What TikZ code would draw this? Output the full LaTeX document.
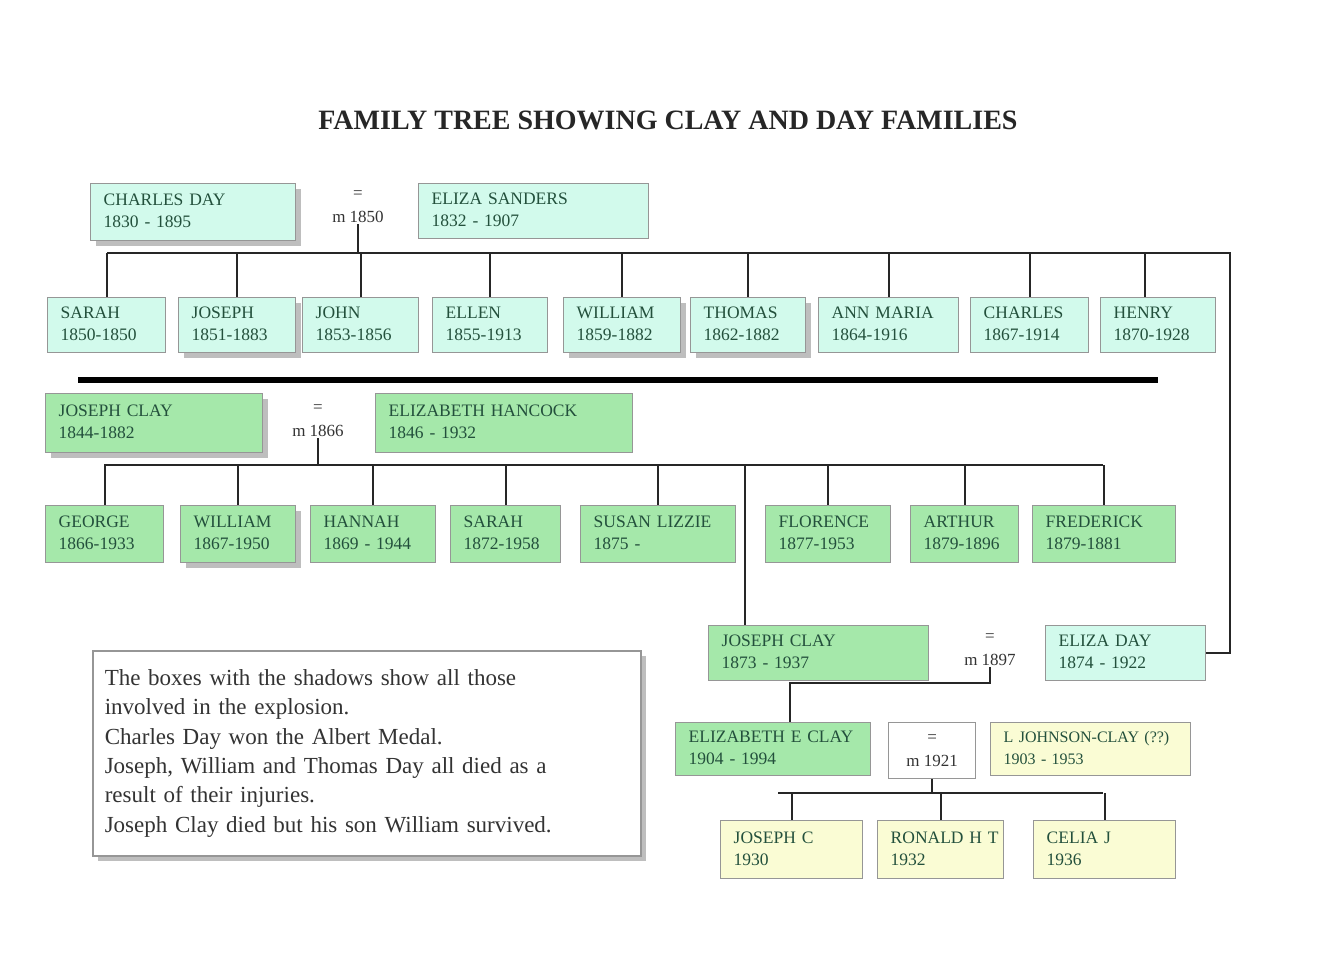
\documentclass[tikz,border=0pt]{standalone}
\usepackage{fontspec}
\setmainfont{Liberation Serif}
\usetikzlibrary{shadows}
\definecolor{daycyan}{RGB}{210,250,236}
\definecolor{claygreen}{RGB}{165,232,170}
\definecolor{paleyellow}{RGB}{250,252,212}
\definecolor{boxline}{RGB}{150,150,150}
\definecolor{txtgreen}{RGB}{35,80,60}
\definecolor{shadowgrey}{RGB}{190,190,190}
\newcommand\pbox[7]{%
  \pgfmathsetmacro\bw{#4-#2}%
  \pgfmathsetmacro\bh{#5-#3}%
  \pgfmathsetmacro\tw{#4-#2-26}%
  \node[person,#6,minimum width=\bw pt,minimum height=\bh pt,text width=\tw pt] (#1) at (#2,#3)
    {\begin{tabular}{@{}l@{}}#7\end{tabular}};%
}
\begin{document}
\begin{tikzpicture}[x=1pt,y=-1pt,
  person/.style={draw=boxline,line width=1.4pt,anchor=north west,align=left,inner sep=0pt,
    font=\fontsize{17.5}{22}\selectfont,text=txtgreen},
  day/.style={fill=daycyan},
  clay/.style={fill=claygreen},
  kid/.style={fill=paleyellow},
  shadowed/.style={general shadow={fill=shadowgrey,shadow xshift=5pt,shadow yshift=-5pt}},
  marr/.style={align=center,inner sep=1pt,font=\fontsize{17}{24}\selectfont,text=black!80},
  link/.style={draw=black!85,line width=1.8pt},
  titlefont/.style={font=\fontsize{28}{32}\selectfont\bfseries}
]
\useasboundingbox (0,0) rectangle (1330,965);
\fill[white] (0,0) rectangle (1330,965);

\node[titlefont,text=black!85] (title) at (668,120) {FAMILY TREE SHOWING CLAY AND DAY FAMILIES};

% generation 1
\pbox{cday}{90}{183}{295}{240}{day,shadowed}{CHARLES DAY\\1830 - 1895}
\pbox{esand}{418}{183}{648}{238}{day}{ELIZA SANDERS\\1832 - 1907}
\node[marr] (m1) at (358,207) {=\\m 1850};
\coordinate (t1L) at (107,253);
\coordinate (t1R) at (1230,253);

% Day children
\pbox{sarah1}{47}{297}{165}{352}{day}{SARAH\\1850-1850}
\pbox{joseph1}{178}{297}{295}{352}{day,shadowed}{JOSEPH\\1851-1883}
\pbox{john1}{302}{297}{418}{352}{day}{JOHN\\1853-1856}
\pbox{ellen1}{432}{297}{547}{352}{day}{ELLEN\\1855-1913}
\pbox{william1}{563}{297}{680}{352}{day,shadowed}{WILLIAM\\1859-1882}
\pbox{thomas1}{690}{297}{805}{352}{day,shadowed}{THOMAS\\1862-1882}
\pbox{ann1}{818}{297}{958}{352}{day}{ANN MARIA\\1864-1916}
\pbox{charles1}{970}{297}{1088}{352}{day}{CHARLES\\1867-1914}
\pbox{henry1}{1100}{297}{1215}{352}{day}{HENRY\\1870-1928}
\coordinate (hdrop) at (1145,297);

\draw[line width=6pt] (78,380) coordinate (barL) -- (1158,380) coordinate (barR);

% generation 2 (Clay)
\pbox{jclay2}{45}{393}{262}{452}{clay,shadowed}{JOSEPH CLAY\\1844-1882}
\pbox{ehan}{375}{393}{632}{452}{clay}{ELIZABETH HANCOCK\\1846 - 1932}
\node[marr] (m2) at (318,421) {=\\m 1866};
\coordinate (t2L) at (104,465);
\coordinate (t2R) at (1103,465);
\coordinate (t2J) at (745,465);

\pbox{george2}{45}{505}{163}{562}{clay}{GEORGE\\1866-1933}
\pbox{william2}{180}{505}{295}{562}{clay,shadowed}{WILLIAM\\1867-1950}
\pbox{hannah2}{310}{505}{435}{562}{clay}{HANNAH\\1869 - 1944}
\pbox{sarah2}{450}{505}{560}{562}{clay}{SARAH\\1872-1958}
\pbox{susan2}{580}{505}{735}{562}{clay}{SUSAN LIZZIE\\1875 -}
\pbox{florence2}{765}{505}{890}{562}{clay}{FLORENCE\\1877-1953}
\pbox{arthur2}{910}{505}{1018}{562}{clay}{ARTHUR\\1879-1896}
\pbox{fred2}{1032}{505}{1175}{562}{clay}{FREDERICK\\1879-1881}

% generation 3
\pbox{jclay3}{708}{625}{928}{680}{clay}{JOSEPH CLAY\\1873 - 1937}
\pbox{eday}{1045}{625}{1205}{680}{day}{ELIZA DAY\\1874 - 1922}
\node[marr] (m3) at (990,650) {=\\m 1897};

% generation 4
\pbox{eclay}{675}{722}{870}{775}{clay}{ELIZABETH E CLAY\\1904 - 1994}
\coordinate (ecin) at (790,722);
\node[draw=boxline,line width=1.4pt,anchor=north west,minimum width=87pt,minimum height=56pt,
  align=center,inner sep=0pt,font=\fontsize{17}{24}\selectfont,text=black!80] (m4) at (888,722) {=\\m 1921};
\pbox{ljohn}{990}{722}{1190}{775}{kid,font=\fontsize{16}{22}\selectfont}{L JOHNSON-CLAY (??)\\1903 - 1953}
\coordinate (t4L) at (778,793);
\coordinate (t4R) at (1103,793);

\pbox{josephc}{720}{820}{862}{878}{kid}{JOSEPH C\\1930}
\pbox{ronald}{877}{820}{1003}{878}{kid}{RONALD H T\\1932}
\pbox{celia}{1033}{820}{1175}{878}{kid}{CELIA J\\1936}

% note
\node[draw=boxline,line width=1.6pt,fill=white,shadowed,anchor=north west,minimum width=548pt,
  minimum height=205pt,text width=524pt,align=left,inner sep=0pt,
  font=\fontsize{23}{29.3}\selectfont,text=black!80] (note) at (92,650)
  {The boxes with the shadows show all those\\involved in the explosion.\\Charles Day won the Albert Medal.\\Joseph, William and Thomas Day all died as a\\result of their injuries.\\Joseph Clay died but his son William survived.};

% connectors, generation 1
\draw[link] (m1.south) -- (m1.south |- t1L);
\draw[link] (t1L) -- (t1R) |- (eday.east);
\foreach \c in {sarah1,joseph1,john1,ellen1,william1,thomas1,ann1,charles1}
  \draw[link] (\c.north |- t1L) -- (\c.north);
\draw[link] (hdrop |- t1L) -- (hdrop);

% connectors, generation 2
\draw[link] (m2.south) -- (m2.south |- t2L);
\draw[link] (t2L) -- (t2R);
\foreach \c in {george2,william2,hannah2,sarah2,susan2,florence2,arthur2,fred2}
  \draw[link] (\c.north |- t2L) -- (\c.north);
\draw[link] (t2J) -- (t2J |- jclay3.north);

% connectors, generation 3
\draw[link] (m3.south) -- ++(0,16) -| (ecin);

% connectors, generation 4
\draw[link] (m4.south) -- (m4.south |- t4L);
\draw[link] (t4L) -- (t4R);
\foreach \c in {josephc,ronald,celia}
  \draw[link] (\c.north |- t4L) -- (\c.north);
\end{tikzpicture}
\end{document}
